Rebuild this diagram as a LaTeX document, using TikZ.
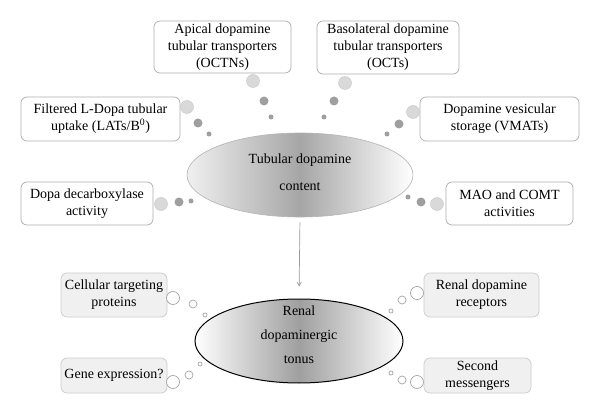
\documentclass[tikz,border=0pt]{standalone}
\usepackage{fontspec}
\setmainfont{Liberation Serif}
\usetikzlibrary{positioning}
\usetikzlibrary{shapes.geometric}
\usetikzlibrary{arrows}

\tikzset{
  factor/.style={draw=gray!65,line width=0.7pt,rounded corners=6pt,align=center,
    inner sep=2pt,font=\fontsize{14}{17}\selectfont},
  target/.style={factor,draw=gray!40,fill=gray!12},
  content/.style={ellipse,draw=gray!60,line width=0.6pt,minimum width=226pt,minimum height=84pt,
    left color=gray!12,right color=white,middle color=gray!70},
  tonus/.style={ellipse,draw=black,line width=1pt,minimum width=208pt,minimum height=84pt,
    left color=white,right color=white,middle color=gray!75},
  bigdot/.style={fill=gray!30,draw=gray!40,line width=0.5pt},
  middot/.style={fill=gray!75},
  ring/.style={draw=gray!70,fill=white,line width=0.7pt}
}

\begin{document}
\begin{tikzpicture}[x=1pt,y=-1pt]
\useasboundingbox (0,0) rectangle (600,414);

\node (tub) [content] at (300,175) {};
\node [align=center,font=\fontsize{14}{17}\selectfont] at (300,172) {Tubular dopamine\\[10pt]content};
\node (ton) [tonus] at (299,341) {};
\node [align=center,font=\fontsize{14}{17}\selectfont] at (299,335) {Renal\\[7pt]dopaminergic\\[7pt]tonus};
\draw[gray!80,line width=0.7pt,->,>=angle 60,shorten <=5pt,shorten >=12pt] (tub.south) -- (ton.north);

\node (apical) [factor,minimum width=137pt,minimum height=52pt] at (222.5,47)
  {Apical dopamine\\tubular transporters\\(OCTNs)};
\node (baso) [factor,minimum width=142pt,minimum height=53pt] at (388,47.5)
  {Basolateral dopamine\\tubular transporters\\(OCTs)};
\node (ldopa) [factor,minimum width=159pt,minimum height=44pt] at (100.5,119)
  {Filtered L-Dopa tubular\\uptake (LATs/B\textsuperscript{0})};
\node (vmat) [factor,minimum width=159pt,minimum height=44pt] at (499.5,119)
  {Dopamine vesicular\\storage (VMATs)};
\node (ddc) [factor,minimum width=132pt,minimum height=43pt] at (87,203.5)
  {Dopa decarboxylase\\activity};
\node (mao) [factor,minimum width=127pt,minimum height=43pt] at (509.5,203.5)
  {MAO and COMT\\activities};

\node (cell) [target,minimum width=106pt,minimum height=44pt] at (114,295)
  {Cellular targeting\\proteins};
\node (gene) [target,minimum width=106pt,minimum height=35pt] at (114,375.5)
  {Gene expression?};
\node (recep) [target,minimum width=115pt,minimum height=44pt] at (481.5,295)
  {Renal dopamine\\receptors};
\node (second) [target,minimum width=107pt,minimum height=35pt] at (477.5,375.5)
  {Second\\messengers};

% thought bubbles, big/mid/small
\foreach \bx/\by/\mx/\my/\sx/\sy in {253/81/264/101/271/117, 345/83/334/101/324/117,
    187/107/198/123/209/134, 413/112/399/124/387/134,
    161/204/179/202/191/201, 437/204/421/202/408/197}
{
  \filldraw[bigdot] (\bx,\by) circle (6.5);
  \fill[middot] (\mx,\my) circle (4.5);
  \fill[middot] (\sx,\sy) circle (2.5);
}
\foreach \bx/\by/\mx/\my/\sx/\sy in {173/298/193/304/205/315, 173/382/189/375/200/364,
    417/293/402/300/391/311, 417/382/402/380/391/373}
{
  \filldraw[ring] (\bx,\by) circle (6.5);
  \filldraw[ring] (\mx,\my) circle (4);
  \filldraw[ring] (\sx,\sy) circle (2);
}

\end{tikzpicture}
\end{document}
